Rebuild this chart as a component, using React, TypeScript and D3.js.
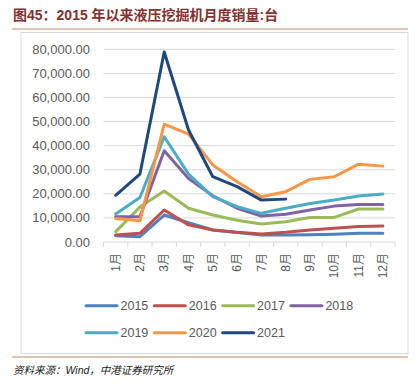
import React from 'react';
import * as d3 from 'd3';

const months = ['1月', '2月', '3月', '4月', '5月', '6月', '7月', '8月', '9月', '10月', '11月', '12月'];
const years = ['2015', '2016', '2017', '2018', '2019', '2020', '2021'];
const colors = ['#4f81bd', '#c0504d', '#9bbb59', '#8064a2', '#4bacc6', '#f79646', '#1f497d'];

const s2015 = [2600, 2200, 11200, 8000, 5000, 3900, 2900, 2900, 3000, 3200, 3600, 3600];
const s2016 = [2900, 3600, 13300, 7100, 5000, 4000, 3300, 4000, 5000, 5700, 6400, 6600];
const s2017 = [4300, 14500, 21200, 14000, 11200, 9000, 7500, 8400, 10200, 10200, 13700, 13700];
const s2018 = [10500, 10500, 37900, 26400, 19200, 14000, 10800, 11500, 13300, 14900, 15600, 15600];
const s2019 = [11600, 18500, 43700, 28200, 18800, 14700, 11900, 14000, 16000, 17400, 19100, 19900];
const s2020 = [9800, 8800, 48900, 44800, 32000, 25000, 18800, 20900, 26000, 27100, 32300, 31500];
const s2021 = [19400, 28200, 78900, 46500, 27100, 23000, 17400, 17800];
const series = [s2015, s2016, s2017, s2018, s2019, s2020, s2021];

const yTicks = [0, 10000, 20000, 30000, 40000, 50000, 60000, 70000, 80000];

const W = 419;
const H = 390;
const x = d3.scaleBand().domain(months).range([103.5, 395]);
const y = d3.scaleLinear().domain([0, 80000]).range([242, 49.3]);
const fmt = d3.format(',.2f');

const line = d3
  .line<number>()
  .x((d, i) => (x(months[i]) as number) + x.bandwidth() / 2)
  .y(d => y(d));

const App = () => {
  const font = '"Liberation Sans", Arial, "Noto Sans CJK SC", sans-serif';
  return (
    <svg width={W} height={H} style={{ position: 'absolute', left: 0, top: 0, background: '#fff' }} fontFamily={font}>
      <text x={13} y={20} fontSize={14} fontWeight="bold" fill="#83302f">
        图45：2015 年以来液压挖掘机月度销量:台
      </text>
      <line x1={12} x2={408} y1={29} y2={29} stroke="#c98a74" strokeWidth={1.2} />
      <rect x={21} y={32.5} width={387} height={321} fill="none" stroke="#d9d9d9" />

      {yTicks.map(t => (
        <g key={t}>
          <line x1={103.5} x2={395} y1={y(t)} y2={y(t)} stroke="#d9d9d9" />
          <text x={90} y={y(t)} dy="0.35em" textAnchor="end" fontSize={13} fill="#595959">
            {fmt(t)}
          </text>
        </g>
      ))}
      {x.domain().concat(['']).map((m, i) => {
        const xx = 103.5 + i * x.step();
        return <line key={i} x1={xx} x2={xx} y1={242} y2={247} stroke="#d9d9d9" />;
      })}
      {months.map(m => (
        <text
          key={m}
          transform={`translate(${(x(m) as number) + x.bandwidth() / 2},253) rotate(-90)`}
          textAnchor="end"
          dy="0.35em"
          fontSize={12}
          fill="#595959"
        >
          {m}
        </text>
      ))}

      {series.map((s, i) => (
        <path
          key={years[i]}
          d={line(s) || ''}
          fill="none"
          stroke={colors[i]}
          strokeWidth={3}
          strokeLinejoin="round"
          strokeLinecap="round"
        />
      ))}

      {years.map((yr, i) => {
        const col = i < 4 ? i : i - 4;
        const row = i < 4 ? 0 : 1;
        const lx = 85 + col * 68.3;
        const ly = row === 0 ? 305.7 : 332.7;
        return (
          <g key={yr}>
            <line x1={lx + 1} x2={lx + 32} y1={ly} y2={ly} stroke={colors[i]} strokeWidth={3} strokeLinecap="round" />
            <text x={lx + 35.5} y={ly} dy="0.35em" fontSize={12.5} fill="#595959">
              {yr}
            </text>
          </g>
        );
      })}

      <line x1={12} x2={408} y1={357} y2={357} stroke="#c98a74" strokeWidth={1.2} />
      <text x={13} y={374} fontSize={10.5} fontStyle="italic" fill="#222">
        资料来源：Wind，中港证券研究所
      </text>
    </svg>
  );
};

export default App;
